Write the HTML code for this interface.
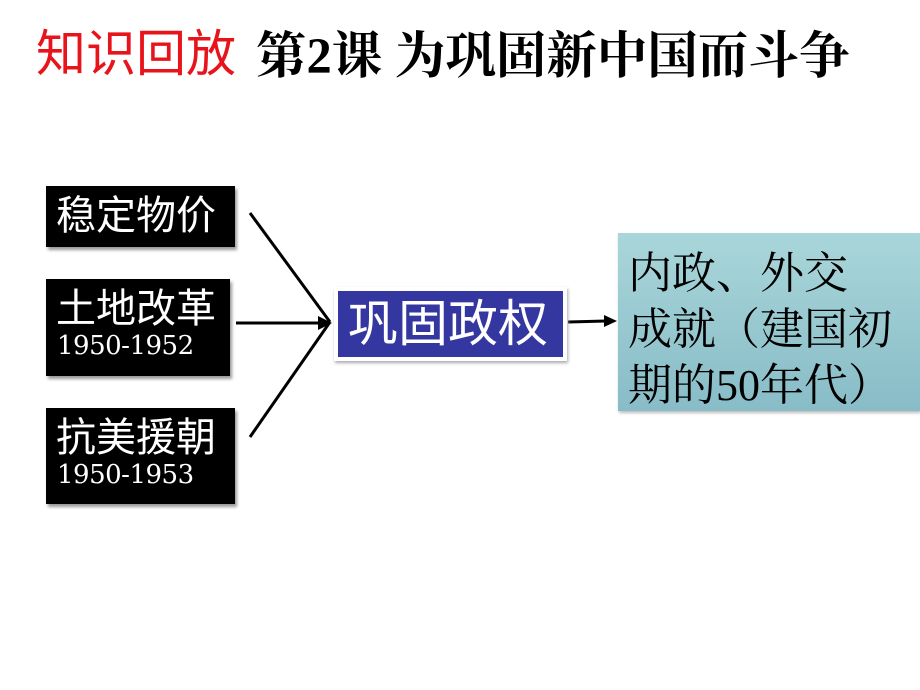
<!DOCTYPE html>
<html><head><meta charset="utf-8"><style>
body{margin:0;width:920px;height:690px;background:#fff;position:relative;overflow:hidden;font-family:"Liberation Serif","Noto Serif CJK SC",serif}
.b{position:absolute;background:#000;color:#fff;box-shadow:2px 3px 3px #999;font-family:"Liberation Sans","Noto Sans CJK SC",sans-serif;white-space:nowrap}
.b .t{font-size:40px;line-height:44px;margin:8px 0 0 10px}
.b .y{font-family:"DejaVu Serif","Liberation Serif",serif;font-size:26px;line-height:30px;margin-left:11px;letter-spacing:-0.5px}
</style></head><body>
<div style="position:absolute;left:36px;top:24px;font-size:50px;color:#e8141c;line-height:60px;font-family:'Liberation Sans','Noto Sans CJK SC',sans-serif">知识回放</div>
<div style="position:absolute;left:256px;top:26px;font-size:50.5px;font-weight:bold;color:#000;line-height:60px;white-space:nowrap;font-family:'Liberation Serif','Noto Serif CJK SC',serif">第2课 为巩固新中国而斗争</div>

<div class="b" style="left:46px;top:186px;width:189px;height:61px"><div class="t">稳定物价</div></div>
<div class="b" style="left:46px;top:279px;width:184px;height:97px"><div class="t">土地改革</div><div class="y">1950-1952</div></div>
<div class="b" style="left:46px;top:408px;width:189px;height:96px"><div class="t">抗美援朝</div><div class="y">1950-1953</div></div>

<svg style="position:absolute;left:0;top:0" width="920" height="690">
<g stroke="#000" stroke-width="3" fill="none">
<line x1="250" y1="213" x2="330" y2="322"/>
<line x1="250" y1="437" x2="330" y2="322"/>
<line x1="236" y1="323" x2="320" y2="323"/>
<line x1="568" y1="322" x2="606" y2="321"/>
</g>
<polygon points="332,323 318,316 318,330" fill="#000"/>
<polygon points="617,321 604,315 604,327" fill="#000"/>
</svg>

<div style="position:absolute;left:334px;top:287px;width:233px;height:74px;background:#fff;box-shadow:1px 2px 3px #aaa">
<div style="position:absolute;left:4px;top:4px;right:4px;bottom:4px;background:#3537a0;color:#fff;font-size:50px;line-height:66px;padding-left:10px;white-space:nowrap;font-family:'Liberation Sans','Noto Sans CJK SC',sans-serif">巩固政权</div></div>

<div style="position:absolute;left:618px;top:233px;width:302px;height:178px;background:linear-gradient(180deg,#a9d6da,#88bcc7);box-shadow:1px 2px 3px #bbb;font-size:44px;line-height:56px;color:#000;padding:8px 0 0 10px;box-sizing:border-box;white-space:nowrap;font-family:'Noto Serif CJK SC','Liberation Serif',serif">内政、外交<br>成就（建国初<br>期的<span style="font-family:'Liberation Serif',serif">50</span>年代）</div>
</body></html>
